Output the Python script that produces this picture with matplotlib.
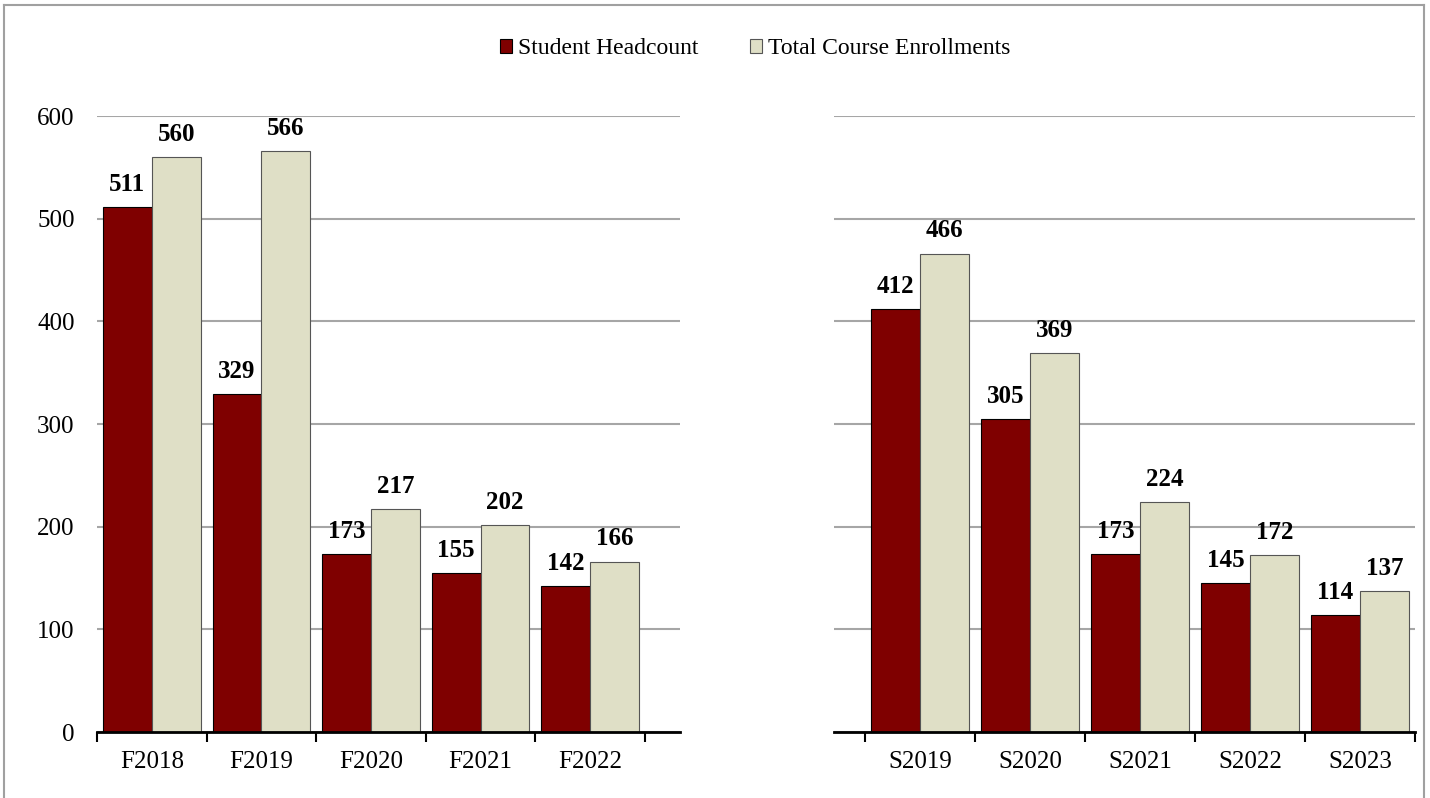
import numpy as np
import matplotlib.pyplot as plt
from matplotlib.lines import Line2D

plt.rcParams['font.family'] = ['Liberation Serif', 'DejaVu Serif']

fall_terms = ['F2018', 'F2019', 'F2020', 'F2021', 'F2022']
fall_headcount = [511, 329, 173, 155, 142]
fall_enroll = [560, 566, 217, 202, 166]

spring_terms = ['S2019', 'S2020', 'S2021', 'S2022', 'S2023']
spring_headcount = [412, 305, 173, 145, 114]
spring_enroll = [466, 369, 224, 172, 137]

red = '#7f0000'
beige = '#dfdfc6'
w = 0.445

fig = plt.figure(figsize=(14.3, 7.98), dpi=100)
ax1 = fig.add_axes([0.0678, 0.0827, 0.4077, 0.7719])
ax2 = fig.add_axes([0.5832, 0.0827, 0.4063, 0.7719])


def draw(ax, terms, hc, en, xlim, show_y):
    x = np.arange(len(terms))
    b1 = ax.bar(x - w / 2, hc, w, color=red, edgecolor='black', linewidth=0.8,
                label='Student Headcount', zorder=3)
    b2 = ax.bar(x + w / 2, en, w, color=beige, edgecolor='#555555', linewidth=0.8,
                label='Total Course Enrollments', zorder=3)
    for bars in (b1, b2):
        for r in bars:
            ax.annotate(str(int(r.get_height())),
                        (r.get_x() + r.get_width() / 2, r.get_height()),
                        xytext=(0, 8), textcoords='offset points',
                        ha='center', va='bottom', fontsize=18, fontweight='bold')
    ax.set_ylim(0, 600)
    ax.set_xlim(*xlim)
    ax.set_yticks(range(0, 601, 100))
    ax.yaxis.grid(True, color='#a6a6a6', linewidth=1.5, zorder=0)
    ax.set_axisbelow(True)
    ax.set_xticks(np.arange(-0.5, len(terms)), labels=[])
    ax.set_xticks(x, labels=terms, minor=True)
    ax.tick_params(axis='x', which='major', direction='out', length=7, width=1.5, color='black')
    ax.tick_params(axis='x', which='minor', length=0, labelsize=18, pad=14)
    ax.tick_params(axis='y', length=0, labelsize=18, pad=16)
    if not show_y:
        ax.tick_params(axis='y', labelleft=False)
    for s in ('left', 'right', 'top'):
        ax.spines[s].set_visible(False)
    ax.spines['bottom'].set_linewidth(2)
    ax.spines['bottom'].set_zorder(4)
    return b1, b2


h = draw(ax1, fall_terms, fall_headcount, fall_enroll, (-0.5, 4.82), True)
draw(ax2, spring_terms, spring_headcount, spring_enroll, (-0.78, 4.5), False)

fig.legend(h, ['Student Headcount', 'Total Course Enrollments'], loc='center',
           bbox_to_anchor=(0.528, 0.939), ncol=2, frameon=False, fontsize=17,
           handlelength=0.5, handleheight=0.5, handletextpad=0.25, columnspacing=2.2)

# outer chart border
for xs, ys in [((0.003, 0.996), (0.994, 0.994)), ((0.003, 0.003), (0.0, 0.994)),
               ((0.996, 0.996), (0.0, 0.994))]:
    fig.add_artist(Line2D(xs, ys, color='#a0a0a0', linewidth=1.5))

fig.savefig('out.png', dpi=100)
